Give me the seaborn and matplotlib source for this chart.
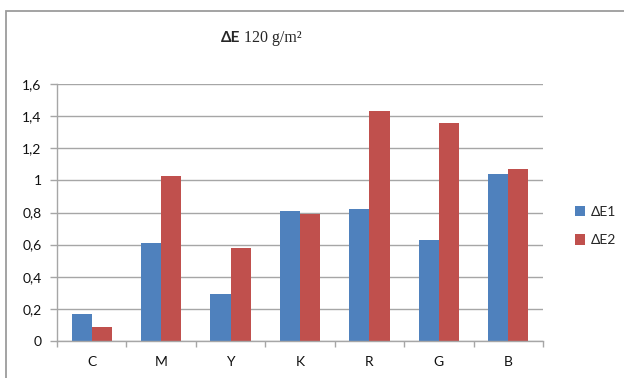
import matplotlib
matplotlib.use("Agg")
import matplotlib.pyplot as plt
from matplotlib.patches import Rectangle, Patch
from matplotlib.ticker import FixedLocator
import seaborn as sns
import pandas as pd

# Colour differences per print patch
categories = ["C", "M", "Y", "K", "R", "G", "B"]
delta_e1 = [0.17, 0.61, 0.29, 0.81, 0.82, 0.63, 1.04]
delta_e2 = [0.09, 1.03, 0.58, 0.79, 1.43, 1.36, 1.07]
series_names = ["ΔE1", "ΔE2"]
series_colors = ["#4F81BD", "#C0504D"]
y_ticks = [0, 0.2, 0.4, 0.6, 0.8, 1.0, 1.2, 1.4, 1.6]
y_tick_labels = ["0", "0,2", "0,4", "0,6", "0,8", "1", "1,2", "1,4", "1,6"]

df = pd.DataFrame({
    "patch": categories * 2,
    "value": delta_e1 + delta_e2,
    "series": [series_names[0]] * len(categories) + [series_names[1]] * len(categories),
})

sns.set_theme(style="white")
plt.rcParams["font.family"] = ["Lato", "DejaVu Sans"]

fig = plt.figure(figsize=(6.24, 3.78), dpi=100)
ax = fig.add_axes([57 / 624, 1 - 341 / 378, (543 - 57) / 624, (341 - 84) / 378])

grid_col = "#A6A6A6"
ax.set_axisbelow(True)
ax.yaxis.grid(True, color=grid_col, linewidth=1.0)

sns.barplot(data=df, x="patch", y="value", hue="series", order=categories,
            hue_order=series_names, palette=series_colors, saturation=1,
            width=0.58, gap=0, linewidth=0, legend=False, ax=ax)

ax.set_xlim(-0.5, len(categories) - 0.5)
ax.set_ylim(0, 1.6)
ax.set_yticks(y_ticks)
ax.set_yticklabels(y_tick_labels)
ax.set_xlabel("")
ax.set_ylabel("")

for side in ("top", "right"):
    ax.spines[side].set_visible(False)
for side in ("left", "bottom"):
    ax.spines[side].set_color(grid_col)
    ax.spines[side].set_linewidth(1.0)

ax.tick_params(axis="y", length=5, width=1, color=grid_col, pad=6,
               labelsize=10, labelcolor="#111111", left=True, direction="out")
ax.tick_params(axis="x", which="major", length=0, pad=11, labelsize=10,
               labelcolor="#111111")
ax.xaxis.set_minor_locator(FixedLocator([i - 0.5 for i in range(len(categories) + 1)]))
ax.tick_params(axis="x", which="minor", length=4, width=1, color=grid_col,
               bottom=True, direction="out")

# Title: bold sans symbol followed by serif unit text
fig.text(240 / 624, 1 - 38 / 378, "ΔE", ha="right", va="center", fontsize=11,
         fontweight="bold", family=["Lato", "DejaVu Sans"])
fig.text(244 / 624, 1 - 38 / 378, "120 g/m²", ha="left", va="center", fontsize=11.5,
         family=["Liberation Serif", "DejaVu Serif"])

handles = [Patch(facecolor=c, edgecolor="none") for c in series_colors]
fig.legend(handles, series_names, loc="center left",
           bbox_to_anchor=(562 / 624, 1 - 226 / 378), frameon=False,
           fontsize=10, handlelength=0.75, handleheight=0.75,
           handletextpad=0.45, labelspacing=1.2)

# Chart-area border
fig.patches.append(Rectangle((6 / 624, -0.05), 1.0, 1 - 11 / 378 + 0.05,
                             transform=fig.transFigure, fill=False,
                             edgecolor="#9C9C9C", linewidth=1.3))

fig.savefig("out.png", dpi=100)
